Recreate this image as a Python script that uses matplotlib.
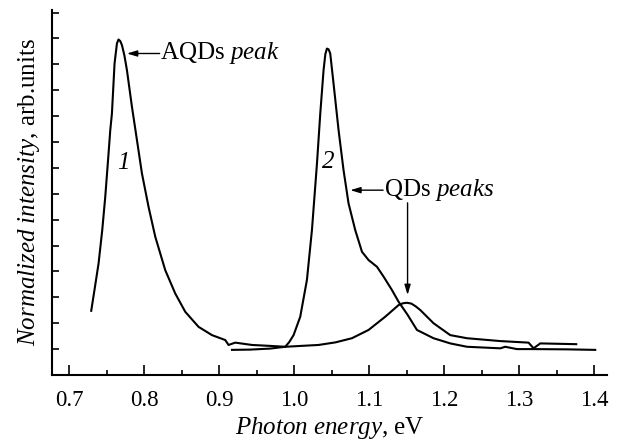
import matplotlib
matplotlib.use("Agg")
import matplotlib.pyplot as plt
from matplotlib.ticker import MultipleLocator, FormatStrFormatter

plt.rcParams["font.family"] = ["Liberation Serif", "DejaVu Serif"]
plt.rcParams["mathtext.fontset"] = "custom"
plt.rcParams["mathtext.rm"] = "Liberation Serif"
plt.rcParams["mathtext.it"] = "Liberation Serif:italic"

# Spectrum 1: AQDs emission plus weak QDs band
energy_1 = [0.7293, 0.7340, 0.7391, 0.7440, 0.7480, 0.7520, 0.7547, 0.7569,
            0.7604, 0.7636, 0.7657, 0.7680, 0.7703, 0.7735, 0.7769, 0.7836,
            0.7903, 0.7969, 0.8057, 0.8147, 0.8280, 0.8413, 0.8547, 0.8724,
            0.8903, 0.9080, 0.9124, 0.9213, 0.9436, 0.9703, 0.9880, 1.0324,
            1.0550, 1.0769, 1.0991, 1.1213, 1.1391, 1.1450, 1.1500, 1.1560,
            1.1620, 1.1680, 1.1857, 1.2080, 1.2303, 1.2747, 1.3124, 1.3191,
            1.3280, 1.3760]
intensity_1 = [2.48, 3.35, 4.31, 5.60, 6.88, 8.40, 9.46, 10.10,
               12.03, 12.81, 12.96, 12.90, 12.74, 12.35, 11.78, 10.36,
               9.07, 7.79, 6.50, 5.34, 4.05, 3.15, 2.44, 1.86,
               1.54, 1.35, 1.16, 1.25, 1.16, 1.12, 1.09, 1.16,
               1.26, 1.42, 1.74, 2.25, 2.70, 2.77, 2.79, 2.76,
               2.65, 2.51, 2.00, 1.54, 1.42, 1.31, 1.25, 1.03,
               1.22, 1.19]

# Spectrum 2: QDs emission with shoulder
energy_2 = [0.9170, 0.9410, 0.9680, 0.9880, 0.9933, 0.9991, 1.0080, 1.0169,
            1.0236, 1.0303, 1.0347, 1.0391, 1.0415, 1.0436, 1.0458, 1.0480,
            1.0524, 1.0591, 1.0657, 1.0724, 1.0813, 1.0903, 1.0991, 1.1103,
            1.1191, 1.1303, 1.1391, 1.1510, 1.1636, 1.1857, 1.2080, 1.2303,
            1.2747, 1.2813, 1.2969, 1.3187, 1.3636, 1.4013]
intensity_2 = [0.97, 0.98, 1.02, 1.09, 1.27, 1.54, 2.25, 3.67,
               5.60, 8.17, 10.10, 11.78, 12.40, 12.61, 12.58, 12.42,
               11.26, 9.46, 7.92, 6.63, 5.60, 4.76, 4.44, 4.18,
               3.80, 3.28, 2.83, 2.33, 1.74, 1.42, 1.22, 1.09,
               1.03, 1.09, 1.00, 1.00, 0.99, 0.97]

x_ticks = [0.7, 0.8, 0.9, 1.0, 1.1, 1.2, 1.3, 1.4]

fig = plt.figure(figsize=(6.19, 4.41), dpi=100)
ax = fig.add_axes([0.084, 0.1497, 0.8966, 0.8276])

ax.plot(energy_1, intensity_1, color="black", lw=1.5)
ax.plot(energy_2, intensity_2, color="black", lw=1.5)

ax.set_xlim(0.677, 1.417)
ax.set_ylim(0, 14.1)

for side in ("top", "right"):
    ax.spines[side].set_visible(False)
for side in ("left", "bottom"):
    ax.spines[side].set_linewidth(1.5)

ax.set_xticks(x_ticks)
ax.xaxis.set_major_formatter(FormatStrFormatter("%.1f"))
ax.xaxis.set_minor_locator(MultipleLocator(0.05))
ax.yaxis.set_major_locator(MultipleLocator(1))
ax.tick_params(axis="x", which="major", direction="in", length=7, width=1.2,
               labelsize=16.5, pad=11)
ax.tick_params(axis="x", which="minor", direction="in", length=3.5, width=1.2)
ax.tick_params(axis="y", which="major", direction="in", length=5, width=1.2,
               labelleft=False)

ax.set_xlabel(r"$\mathit{Photon\ energy}$, eV", fontsize=18, labelpad=3)
ax.set_ylabel(r"$\mathit{Normalized\ intensity}$, arb.units", fontsize=18,
              labelpad=7)

arrow = dict(arrowstyle="-|>,head_length=0.6,head_width=0.18", color="black",
             lw=1.0, shrinkA=0, shrinkB=0)

ax.annotate("", xy=(0.7769, 12.42), xytext=(0.8205, 12.42), arrowprops=arrow)
ax.text(0.8215, 12.42, r"AQDs $\mathit{peak}$", fontsize=18,
        ha="left", va="center")

ax.annotate("", xy=(1.0747, 7.14), xytext=(1.1185, 7.14), arrowprops=arrow)
ax.text(1.1195, 7.14, r"QDs $\mathit{peaks}$", fontsize=18,
        ha="left", va="center")
ax.annotate("", xy=(1.1511, 3.09), xytext=(1.1511, 6.65), arrowprops=arrow)

ax.text(0.772, 8.19, "1", fontsize=18, style="italic", ha="center", va="center")
ax.text(1.0453, 8.22, "2", fontsize=18, style="italic", ha="center", va="center")

fig.savefig("out.png", dpi=100)
